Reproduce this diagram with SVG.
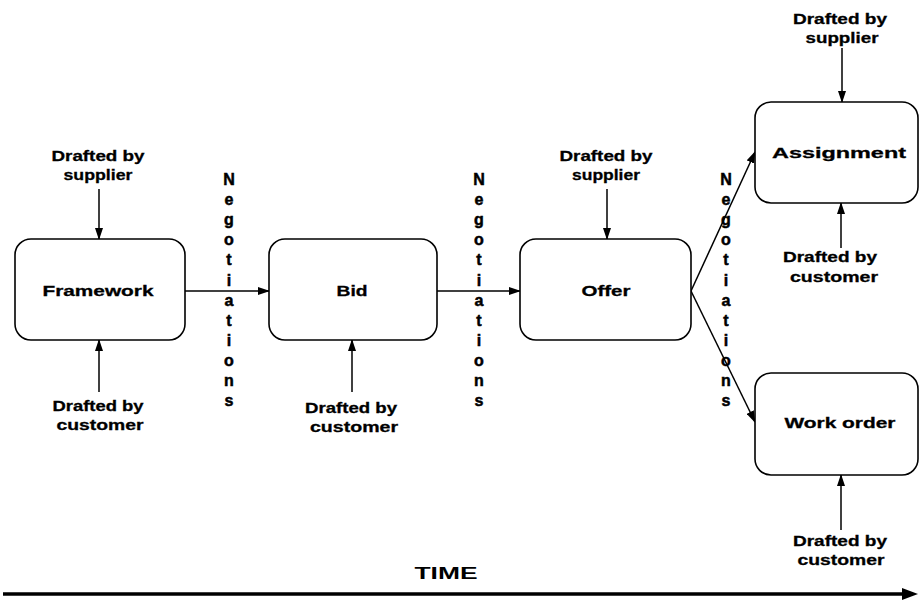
<svg xmlns="http://www.w3.org/2000/svg" width="920" height="602" viewBox="0 0 920 602">
<style>
.box{fill:#fff;stroke:#000;stroke-width:1.6}
.t{font-family:"Liberation Sans",Arial,sans-serif;font-weight:bold;font-size:15px;fill:#000;stroke:#000;stroke-width:0.3;text-anchor:middle}
.lbl{font-family:"Liberation Sans",Arial,sans-serif;font-weight:bold;font-size:15px;fill:#000;stroke:#000;stroke-width:0.3;text-anchor:middle}
.neg{font-family:"Liberation Sans",Arial,sans-serif;font-weight:bold;font-size:16px;fill:#000;stroke:#000;stroke-width:0.5;text-anchor:middle}
.time{font-family:"Liberation Sans",Arial,sans-serif;font-weight:bold;font-size:17px;fill:#000;text-anchor:middle}
.c{stroke:#000;stroke-width:1.5;fill:none;marker-end:url(#ah)}
</style>
<defs>
<marker id="ah" markerWidth="12" markerHeight="8" refX="11" refY="4" orient="auto" markerUnits="userSpaceOnUse">
<path d="M0,0 L12,4 L0,8 Z" fill="#000"/>
</marker>
</defs>
<rect width="920" height="602" fill="#fff"/>

<g id="connectors">
<line class="c" x1="99" y1="189" x2="99" y2="239"/>
<line class="c" x1="99" y1="392" x2="99" y2="340"/>
<line class="c" x1="185" y1="291" x2="269" y2="291"/>
<line class="c" x1="352" y1="392" x2="352" y2="340"/>
<line class="c" x1="437" y1="291" x2="520" y2="291"/>
<line class="c" x1="607" y1="189" x2="607" y2="239"/>
<line class="c" x1="691" y1="291" x2="755" y2="152"/>
<line class="c" x1="691" y1="291" x2="755" y2="422"/>
<line class="c" x1="842" y1="48" x2="842" y2="102"/>
<line class="c" x1="841" y1="248" x2="841" y2="203"/>
<line class="c" x1="841" y1="530" x2="841" y2="475"/>
<line x1="3" y1="594" x2="904" y2="594" stroke="#000" stroke-width="3.5"/>
<path d="M902,588 L918,594 L902,600 Z" fill="#000"/>
</g>

<g id="framework">
<rect class="box" x="15" y="239" width="170" height="101" rx="16"/>
<text class="t" x="98" y="296" textLength="111" lengthAdjust="spacingAndGlyphs">Framework</text>
</g>
<g id="bid">
<rect class="box" x="269" y="239" width="168" height="101" rx="16"/>
<text class="t" x="352" y="296" textLength="31" lengthAdjust="spacingAndGlyphs">Bid</text>
</g>
<g id="offer">
<rect class="box" x="520" y="239" width="171" height="101" rx="16"/>
<text class="t" x="606" y="296" textLength="49" lengthAdjust="spacingAndGlyphs">Offer</text>
</g>
<g id="assignment">
<rect class="box" x="755" y="102" width="163" height="101" rx="16"/>
<text class="t" x="839" y="158" textLength="134" lengthAdjust="spacingAndGlyphs">Assignment</text>
</g>
<g id="workorder">
<rect class="box" x="755" y="373" width="163" height="102" rx="16"/>
<text class="t" x="840" y="428" textLength="111" lengthAdjust="spacingAndGlyphs">Work order</text>
</g>

<g id="label-framework-supplier">
<text class="lbl" x="98" y="161" textLength="93" lengthAdjust="spacingAndGlyphs">Drafted by</text>
<text class="lbl" x="98" y="180" textLength="69" lengthAdjust="spacingAndGlyphs">supplier</text>
</g>
<g id="label-framework-customer">
<text class="lbl" x="98" y="411" textLength="91" lengthAdjust="spacingAndGlyphs">Drafted by</text>
<text class="lbl" x="100" y="430" textLength="87" lengthAdjust="spacingAndGlyphs">customer</text>
</g>
<g id="label-bid-customer">
<text class="lbl" x="351" y="413" textLength="92" lengthAdjust="spacingAndGlyphs">Drafted by</text>
<text class="lbl" x="354" y="432" textLength="88" lengthAdjust="spacingAndGlyphs">customer</text>
</g>
<g id="label-offer-supplier">
<text class="lbl" x="606" y="161" textLength="93" lengthAdjust="spacingAndGlyphs">Drafted by</text>
<text class="lbl" x="606" y="180" textLength="68" lengthAdjust="spacingAndGlyphs">supplier</text>
</g>
<g id="label-assignment-supplier">
<text class="lbl" x="840" y="24" textLength="94" lengthAdjust="spacingAndGlyphs">Drafted by</text>
<text class="lbl" x="842" y="43" textLength="73" lengthAdjust="spacingAndGlyphs">supplier</text>
</g>
<g id="label-assignment-customer">
<text class="lbl" x="830" y="262" textLength="94" lengthAdjust="spacingAndGlyphs">Drafted by</text>
<text class="lbl" x="834" y="282" textLength="88" lengthAdjust="spacingAndGlyphs">customer</text>
</g>
<g id="label-workorder-customer">
<text class="lbl" x="840" y="546" textLength="94" lengthAdjust="spacingAndGlyphs">Drafted by</text>
<text class="lbl" x="841" y="565" textLength="87" lengthAdjust="spacingAndGlyphs">customer</text>
</g>

<g id="negotiations-1">
<text class="neg"><tspan x="229" y="185">N</tspan><tspan x="229" dy="20.1">e</tspan><tspan x="229" dy="20.1">g</tspan><tspan x="229" dy="20.1">o</tspan><tspan x="229" dy="20.1">t</tspan><tspan x="229" dy="20.1">i</tspan><tspan x="229" dy="20.1">a</tspan><tspan x="229" dy="20.1">t</tspan><tspan x="229" dy="20.1">i</tspan><tspan x="229" dy="20.1">o</tspan><tspan x="229" dy="20.1">n</tspan><tspan x="229" dy="20.1">s</tspan></text>
</g>
<g id="negotiations-2">
<text class="neg"><tspan x="479" y="185">N</tspan><tspan x="479" dy="20.1">e</tspan><tspan x="479" dy="20.1">g</tspan><tspan x="479" dy="20.1">o</tspan><tspan x="479" dy="20.1">t</tspan><tspan x="479" dy="20.1">i</tspan><tspan x="479" dy="20.1">a</tspan><tspan x="479" dy="20.1">t</tspan><tspan x="479" dy="20.1">i</tspan><tspan x="479" dy="20.1">o</tspan><tspan x="479" dy="20.1">n</tspan><tspan x="479" dy="20.1">s</tspan></text>
</g>
<g id="negotiations-3">
<text class="neg"><tspan x="726" y="185">N</tspan><tspan x="726" dy="20.1">e</tspan><tspan x="726" dy="20.1">g</tspan><tspan x="726" dy="20.1">o</tspan><tspan x="726" dy="20.1">t</tspan><tspan x="726" dy="20.1">i</tspan><tspan x="726" dy="20.1">a</tspan><tspan x="726" dy="20.1">t</tspan><tspan x="726" dy="20.1">i</tspan><tspan x="726" dy="20.1">o</tspan><tspan x="726" dy="20.1">n</tspan><tspan x="726" dy="20.1">s</tspan></text>
</g>

<g id="time">
<text class="time" x="446" y="579" textLength="63" lengthAdjust="spacingAndGlyphs">TIME</text>
</g>
</svg>
